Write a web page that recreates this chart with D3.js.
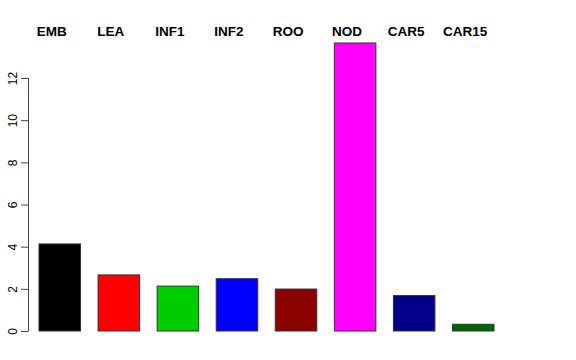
<!DOCTYPE html>
<html>
<head>
<meta charset="utf-8">
<script src="https://cdn.jsdelivr.net/npm/d3@7"></script>
<style>
  body { margin: 0; background: #fff; }
  svg { display: block; font-family: "Liberation Sans", Arial, sans-serif; }
</style>
</head>
<body>
<div id="chart"></div>
<script>
const categories = ['EMB', 'LEA', 'INF1', 'INF2', 'ROO', 'NOD', 'CAR5', 'CAR15'];
const values = [4.13, 2.66, 2.13, 2.48, 1.99, 13.66, 1.68, 0.32];
const colors = ['#000000', '#ff0000', '#00cd00', '#0000ff', '#8b0000', '#ff00ff', '#00008b', '#006400'];
const yTicks = [0, 2, 4, 6, 8, 10, 12];

const width = 576;
const height = 360;

const svg = d3.select('#chart')
  .append('svg')
  .attr('width', width)
  .attr('height', height);

const x = d3.scaleBand()
  .domain(categories)
  .range([39, 494])
  .paddingInner(0.297)
  .paddingOuter(0);

const y = d3.scaleLinear()
  .domain([0, 12])
  .range([331, 78]);

// bars
svg.append('g')
  .selectAll('rect')
  .data(categories)
  .enter()
  .append('rect')
  .attr('x', d => x(d))
  .attr('y', (d, i) => y(values[i]))
  .attr('width', x.bandwidth())
  .attr('height', (d, i) => y(0) - y(values[i]))
  .attr('fill', (d, i) => colors[i])
  .attr('stroke', '#333')
  .attr('stroke-width', 1);

// left axis, R style: rotated labels
const axis = svg.append('g')
  .attr('transform', 'translate(28,0)')
  .call(d3.axisLeft(y).tickValues(yTicks).tickSize(7).tickPadding(0).tickSizeOuter(0));

axis.select('.domain')
  .attr('stroke', '#444')
  .attr('d', 'M0.5,' + y(0) + 'V' + y(12));
axis.selectAll('.tick line').attr('stroke', '#444').attr('x1', 0.5);
axis.selectAll('.tick text')
  .attr('font-size', 12)
  .attr('font-family', '"Liberation Sans", Arial, sans-serif')
  .attr('fill', '#000')
  .attr('x', 0)
  .attr('dy', 0)
  .attr('text-anchor', 'middle')
  .attr('transform', 'translate(-15,0) rotate(-90)')
  .attr('dominant-baseline', 'central');

// category names across the top
svg.append('g')
  .selectAll('text')
  .data(categories)
  .enter()
  .append('text')
  .attr('x', d => x(d) + x.bandwidth() / 2 - 8)
  .attr('y', 36)
  .attr('text-anchor', 'middle')
  .attr('font-size', 13.5)
  .attr('font-weight', 'bold')
  .text(d => d);
</script>
</body>
</html>
